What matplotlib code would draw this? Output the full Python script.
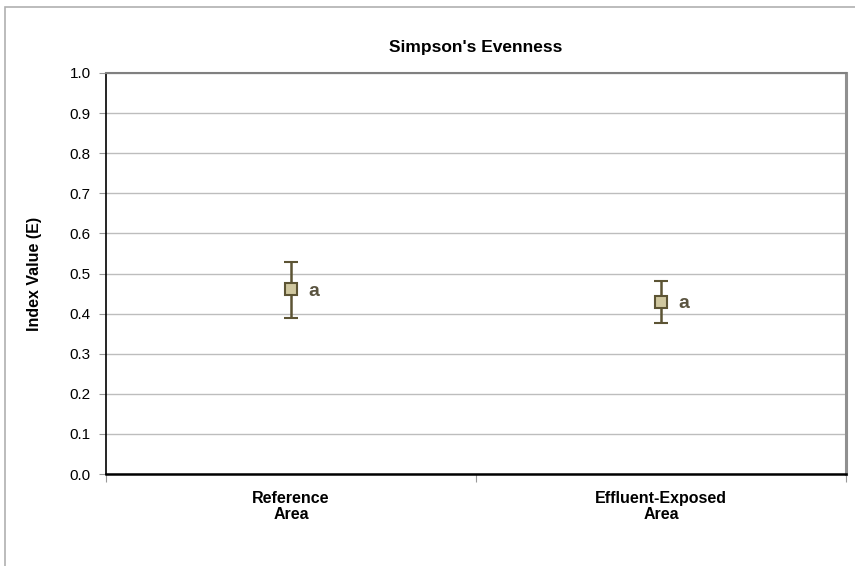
import matplotlib.pyplot as plt
from matplotlib.patches import Rectangle

sites = ['Reference\nArea', 'Effluent-Exposed\nArea']
evenness = [0.461, 0.430]
upper = [0.529, 0.481]
lower = [0.390, 0.377]
letters = ['a', 'a']

plt.rcParams['font.family'] = ['Liberation Sans', 'DejaVu Sans']

fig = plt.figure(figsize=(8.55, 5.66), dpi=100)
ax = fig.add_axes([106/855, 1 - 474/566, 740/855, 401/566])

# outer chart border
fig.patches.append(Rectangle((5/855, -0.1), 1.2, 1 - 7/566 + 0.1,
                             transform=fig.transFigure, fill=False,
                             edgecolor='#b0b0b0', linewidth=1.2))

x = [0.5, 1.5]
yerr = [[m - l for m, l in zip(evenness, lower)],
        [u - m for m, u in zip(evenness, upper)]]
ax.errorbar(x, evenness, yerr=yerr, fmt='s', color='#5c5434',
            markerfacecolor='#cfc79f', markeredgecolor='#5c5434',
            markersize=9, markeredgewidth=1.5, elinewidth=1.8,
            capsize=5, capthick=1.8, zorder=3)
for xi, yi, t in zip(x, evenness, letters):
    ax.text(xi + 0.048, yi - 0.005, t, fontsize=14, fontweight='bold',
            color='#5a5440', va='center', ha='left')

ax.set_xlim(0, 2)
ax.set_ylim(0, 1.0)
ax.set_yticks([i / 10 for i in range(11)])
ax.set_yticklabels([f'{i / 10:.1f}' for i in range(11)], fontsize=11)
ax.set_xticks([0, 1, 2], minor=False)
ax.set_xticklabels([])
ax.set_xticks(x, minor=True)
ax.set_xticklabels(sites, minor=True, fontsize=11.5, fontweight='bold',
                   linespacing=1.1)
ax.tick_params(axis='x', which='minor', length=0, pad=12)
ax.tick_params(axis='x', which='major', length=6, color='#999999')
ax.tick_params(axis='y', length=5, color='#999999', pad=6)

ax.grid(axis='y', color='#bdbdbd', linewidth=1)
ax.set_axisbelow(True)
ax.spines['left'].set_color('black')
ax.spines['bottom'].set_color('black')
ax.spines['bottom'].set_linewidth(1.8)
ax.spines['left'].set_linewidth(1.2)
ax.spines['top'].set_color('#808080')
ax.spines['top'].set_linewidth(1.5)
ax.spines['right'].set_color('#909090')
ax.spines['right'].set_linewidth(2.2)

ax.set_ylabel('Index Value (E)', fontsize=11.5, fontweight='bold', labelpad=20)
ax.set_title("Simpson's Evenness", fontsize=12.5, fontweight='bold', pad=15)

fig.savefig('out.png', dpi=100)
